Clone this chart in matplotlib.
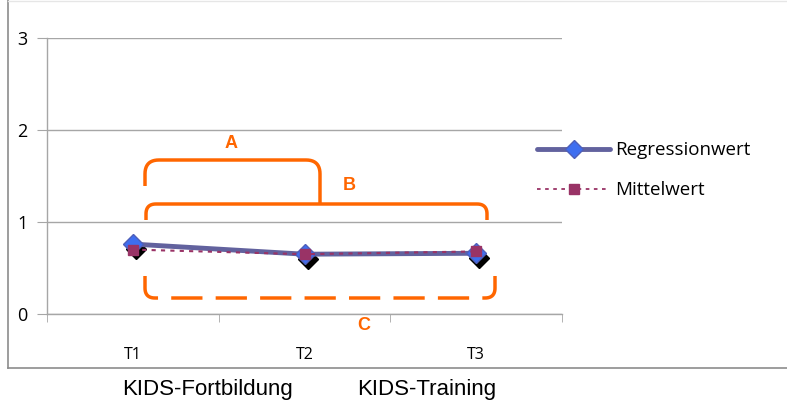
import matplotlib
matplotlib.use("Agg")
import numpy as np
import matplotlib.pyplot as plt
from matplotlib.lines import Line2D
import matplotlib.transforms as mtransforms
from matplotlib.path import Path
from matplotlib.patches import PathPatch

categories = ["T1", "T2", "T3"]
regression = [0.76, 0.65, 0.66]
mittelwert = [0.70, 0.65, 0.68]
y_ticks = [0, 1, 2, 3]
groups = ["KIDS-Fortbildung", "KIDS-Training"]

W, H = 787, 408
fig = plt.figure(figsize=(W / 100, H / 100), dpi=100)
FONT = "Open Sans"

def fx(px):
    return px / W

def fy(py):
    return 1 - py / H

ax = fig.add_axes([fx(47), fy(314), fx(562) - fx(47), fy(38) - fy(314)])
x = list(range(len(categories)))
ax.set_xlim(-0.5, len(categories) - 0.5)
ax.set_ylim(0, 3)

grid_c = "#A6A6A6"
for s in ["top", "right"]:
    ax.spines[s].set_visible(False)
for s in ["left", "bottom"]:
    ax.spines[s].set_color(grid_c)
    ax.spines[s].set_linewidth(1)
ax.set_yticks(y_ticks)
ax.set_yticklabels([str(v) for v in y_ticks], fontfamily=FONT, fontsize=13)
ax.yaxis.grid(True, color=grid_c, linewidth=1)
ax.set_axisbelow(True)
ax.tick_params(axis="y", length=7, color=grid_c, pad=7)
ax.set_xticks(x)
ax.set_xticklabels(categories, fontfamily=FONT, fontsize=11.5)
ax.tick_params(axis="x", which="major", length=0, pad=24)
ax.set_xticks([i - 0.5 for i in range(len(categories) + 1)], minor=True)
ax.tick_params(axis="x", which="minor", length=6, color=grid_c)

# shadow markers
shadow = mtransforms.offset_copy(ax.transData, fig=fig, x=3, y=-5, units="dots")
ax.plot(x, regression, linestyle="none", marker="D", markersize=10,
        color="black", transform=shadow, zorder=2)
ax.plot(x, regression, color="#62629E", linewidth=3.5, marker="D",
        markersize=10, markerfacecolor="#3E6EF0", markeredgecolor="#4F5FB8",
        markeredgewidth=1, zorder=3, label="Regressionwert")
ax.plot(x, mittelwert, color="#993366", linewidth=1.5, linestyle=(0, (2, 2.5)),
        marker="s", markersize=7, markerfacecolor="#993366",
        markeredgecolor="#993366", zorder=4, label="Mittelwert")

# legend (manual, in figure pixels)
lw_items = [
    dict(y=149, color="#62629E", lw=3.5, ls="-", marker="D", ms=9, mfc="#3E6EF0",
         mec="#4F5FB8", text="Regressionwert"),
    dict(y=189, color="#993366", lw=1.3, ls=(0, (2, 2.5)), marker="s", ms=7,
         mfc="#993366", mec="#993366", text="Mittelwert"),
]
for it in lw_items:
    fig.add_artist(Line2D([fx(537), fx(610)], [fy(it["y"]), fy(it["y"])],
                          color=it["color"], lw=it["lw"], ls=it["ls"],
                          solid_capstyle="round"))
    fig.add_artist(Line2D([fx(573.5)], [fy(it["y"])], marker=it["marker"],
                          ms=it["ms"], mfc=it["mfc"], mec=it["mec"], ls="none"))
    fig.text(fx(615), fy(it["y"] + 1), it["text"], fontfamily=FONT, fontsize=13.5,
             va="center", ha="left")

# outer frame
frame_c = "#8C8C8C"
fig.add_artist(Line2D([fx(8), fx(8)], [fy(368), fy(0)], color=frame_c, lw=1.2))
fig.add_artist(Line2D([fx(8), fx(787)], [fy(368), fy(368)], color=frame_c, lw=1.2))
fig.add_artist(Line2D([fx(8), fx(787)], [fy(0.5), fy(0.5)], color="#E6E6E6", lw=1))

# group labels
for g, cx in zip(groups, [208, 427]):
    fig.text(fx(cx), fy(389), g, fontfamily="Liberation Sans", fontsize=16,
             ha="center", va="center")

# orange brackets
orange = "#FF6600"

def bracket(pts, dashed=False):
    verts = [(fx(px), fy(py)) for px, py in pts]
    codes = [Path.MOVETO] + [Path.LINETO] * (len(verts) - 1)
    patch = PathPatch(Path(verts, codes), facecolor="none", edgecolor=orange,
                      lw=2.5, transform=fig.transFigure,
                      linestyle=(0, (9, 3.8)) if dashed else "-",
                      capstyle="butt", joinstyle="round")
    fig.add_artist(patch)

def rounded(points, r):
    out = [points[0]]
    for i in range(1, len(points) - 1):
        p0, p1, p2 = map(np.array, (points[i - 1], points[i], points[i + 1]))
        d0 = (p0 - p1) / np.linalg.norm(p0 - p1)
        d2 = (p2 - p1) / np.linalg.norm(p2 - p1)
        a = p1 + d0 * r
        b = p1 + d2 * r
        for t in np.linspace(0, 1, 12):
            q = (1 - t) ** 2 * a + 2 * (1 - t) * t * p1 + t ** 2 * b
            out.append(tuple(q))
    out.append(points[-1])
    return out

bracket(rounded([(145, 186), (145, 160), (320, 160), (320, 204)], 14))
bracket(rounded([(146, 220), (146, 204), (487, 204), (487, 220)], 10))
bracket(rounded([(145, 276), (145, 298), (495, 298), (495, 276)], 10), dashed=True)

for lab, px, py in [("A", 231, 143), ("B", 349, 186), ("C", 364, 325)]:
    fig.text(fx(px), fy(py), lab, color=orange, fontweight="bold",
             fontfamily="Liberation Sans", fontsize=13, ha="center", va="center")

fig.savefig("out.png", dpi=100)
